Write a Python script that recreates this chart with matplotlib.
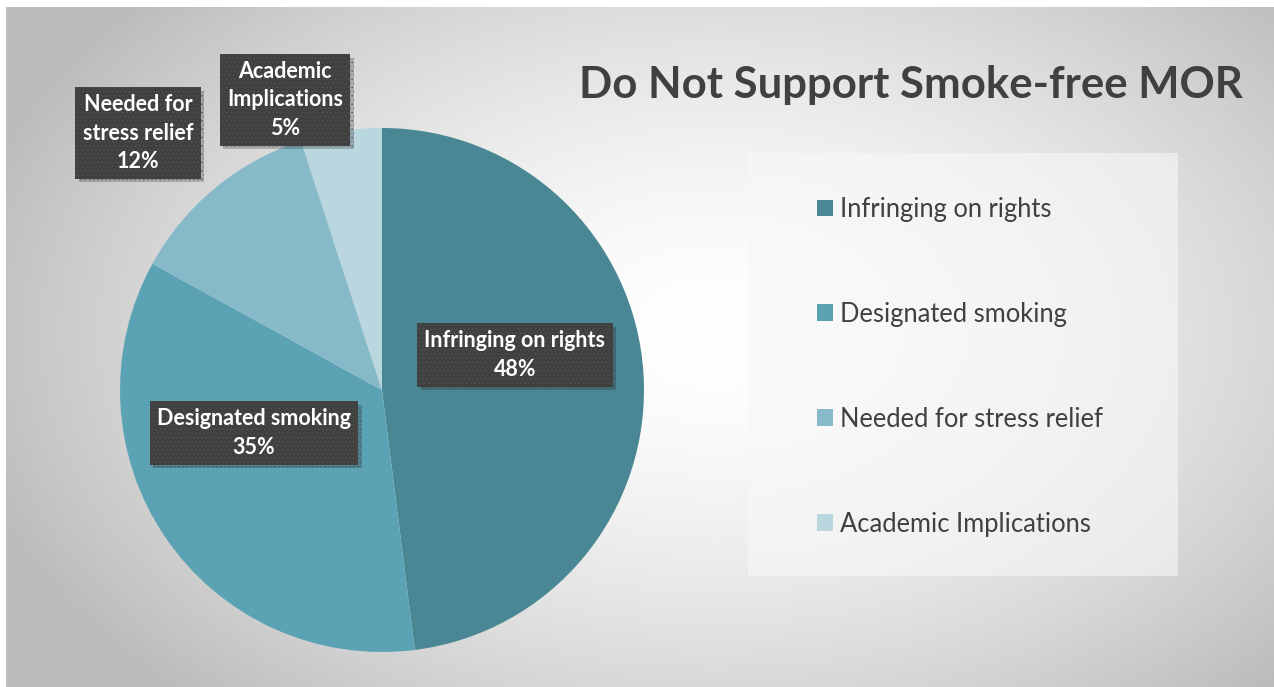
import numpy as np
import matplotlib
matplotlib.use("Agg")
import matplotlib.pyplot as plt
import matplotlib.patheffects as pe
from matplotlib.patches import Rectangle, Patch

categories = ["Infringing on rights", "Designated smoking", "Needed for stress relief", "Academic Implications"]
shares = [48, 35, 12, 5]
colors = ["#4a8794", "#5ba3b4", "#87bac8", "#bad6df"]
label_text = ["Infringing on rights", "Designated smoking", "Needed for\nstress relief", "Academic\nImplications"]
title = "Do Not Support Smoke-free MOR"

W, H = 1274, 687
plt.rcParams['font.family'] = ['Lato', 'DejaVu Sans']
plt.rcParams['hatch.linewidth'] = 0.5

fig = plt.figure(figsize=(W / 100, H / 100), dpi=100)
fig.patch.set_facecolor("white")

def px(x, y):
    # pixel position (top-left origin) -> figure fraction
    return x / W, 1 - y / H

# radial gradient background
bg = fig.add_axes([6 / W, 0, (W - 6) / W, (H - 7) / H])
bg.set_axis_off()
gx, gy = np.meshgrid(np.linspace(0, 1, 400), np.linspace(0, 1, 300))
r = np.sqrt(((gx - 0.56) / 0.62) ** 2 + ((gy - 0.52) / 0.75) ** 2)
shade = np.clip(1 - 0.27 * r ** 1.6, 0.74, 1)
bg.imshow(np.dstack([shade] * 3), extent=[0, 1, 0, 1], aspect='auto', origin='lower')
bg.set_xlim(0, 1)
bg.set_ylim(0, 1)

# pie
cx, cy, rad = 382, 390, 262
ax = fig.add_axes([(cx - rad) / W, (H - cy - rad) / H, 2 * rad / W, 2 * rad / H])
ax.pie(shares, colors=colors, startangle=90, counterclock=False,
       wedgeprops=dict(linewidth=0))
ax.set_xlim(-1, 1)
ax.set_ylim(-1, 1)
ax.set_axis_off()

# data label boxes
label_pos = [(515, 355), (254, 433), (138, 133), (285, 100)]
for txt, v, (lx, ly) in zip(label_text, shares, label_pos):
    t = fig.text(*px(lx, ly), f"{txt}\n{v}%", ha='center', va='center',
                 fontsize=15.5, fontweight='bold', color='white', linespacing=1.42,
                 bbox=dict(boxstyle='square,pad=0.34', facecolor='#404040',
                           edgecolor='#525252', linewidth=0, hatch='....'))
    t.get_bbox_patch().set_path_effects([
        pe.SimplePatchShadow(offset=(2.5, -2.5), shadow_rgbFace='#222222', alpha=0.25),
        pe.Normal()])

# title
fig.text(*px(911, 85), title, ha='center', va='center', fontsize=31.5,
         fontweight='bold', color='#404040')

# legend panel
x0, y0 = px(748, 576)
x1, y1 = px(1178, 153)
fig.patches.append(Rectangle((x0, y0), x1 - x0, y1 - y0, transform=fig.transFigure,
                             facecolor='#f8f8f8', alpha=0.6, edgecolor='none'))
handles = [Patch(facecolor=c, edgecolor='none') for c in colors]
leg = fig.legend(handles, categories, loc='upper left', bbox_to_anchor=px(804, 184),
                 frameon=False, fontsize=18.4, labelcolor='#404040',
                 handlelength=0.62, handleheight=0.62, handletextpad=0.3,
                 labelspacing=3.13, borderpad=0)

fig.savefig("out.png", dpi=100, facecolor=fig.get_facecolor())
